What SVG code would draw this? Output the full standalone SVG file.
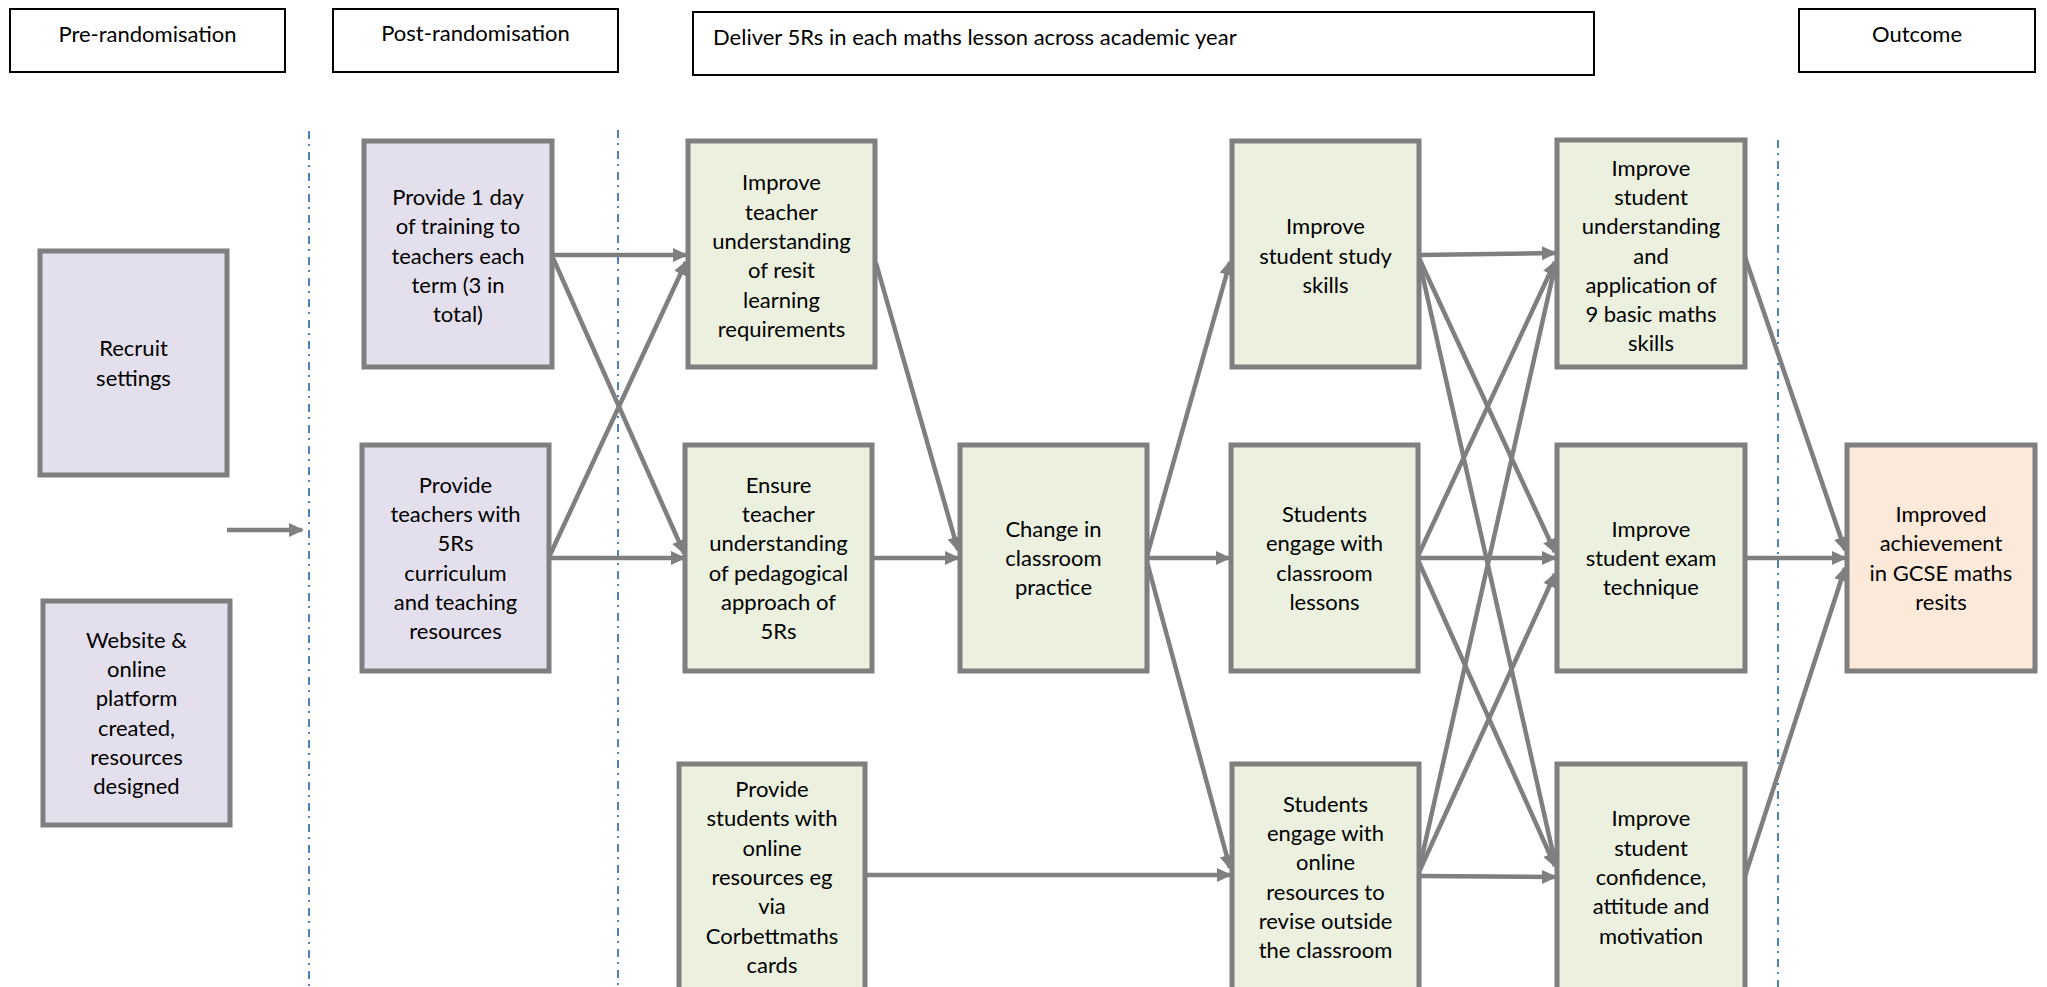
<svg xmlns="http://www.w3.org/2000/svg" width="2047" height="987" viewBox="0 0 2047 987">
<style>
  .hdr { fill: #ffffff; stroke: #000000; stroke-width: 2; }
  .node { stroke: #7f7f7f; stroke-width: 5; }
  .pur { fill: #e4dfec; }
  .grn { fill: #ebf1de; }
  .pch { fill: #fde9d9; }
  text { font-family: Lato, "Open Sans", "Liberation Sans", sans-serif; font-size: 22px; fill: #000000; }
  .c { text-anchor: middle; }
  .conn line { stroke: #7f7f7f; stroke-width: 4.5; fill: none; marker-end: url(#arr); }
  .div line { stroke: #4f81bd; stroke-width: 2; stroke-dasharray: 8 5 2 6; }
</style>
<defs>
  <marker id="arr" markerUnits="userSpaceOnUse" markerWidth="16" markerHeight="15" refX="13" refY="7" orient="auto">
    <path d="M0,0 L15,7 L0,14 z" fill="#7f7f7f"/>
  </marker>
</defs>
<rect width="2047" height="987" fill="#ffffff"/>

<g id="dividers" class="div">
  <line x1="309" y1="131" x2="309" y2="987"/>
  <line x1="618" y1="130" x2="618" y2="987"/>
  <line x1="1778" y1="140" x2="1778" y2="987"/>
</g>

<g id="hdr-pre"><rect class="hdr" x="10" y="9" width="275" height="63"/><text class="c" x="147.5" y="42">Pre-randomisation</text></g>
<g id="hdr-post"><rect class="hdr" x="333" y="9" width="285" height="63"/><text class="c" x="475.5" y="41">Post-randomisation</text></g>
<g id="hdr-deliver"><rect class="hdr" x="693" y="12" width="901" height="63"/><text x="713" y="45">Deliver 5Rs in each maths lesson across academic year</text></g>
<g id="hdr-outcome"><rect class="hdr" x="1799" y="9" width="236" height="63"/><text class="c" x="1917" y="42">Outcome</text></g>

<g id="connectors" class="conn">
  <line x1="227" y1="530" x2="302" y2="530"/>
  <line x1="552" y1="255" x2="686" y2="255"/>
  <line x1="553" y1="258" x2="684" y2="553"/>
  <line x1="550" y1="555" x2="686" y2="262"/>
  <line x1="549" y1="558" x2="684" y2="558"/>
  <line x1="876" y1="263" x2="958" y2="550"/>
  <line x1="872" y1="558" x2="958" y2="558"/>
  <line x1="1147" y1="556" x2="1230" y2="262"/>
  <line x1="1147" y1="558" x2="1229" y2="558"/>
  <line x1="1147" y1="562" x2="1230" y2="868"/>
  <line x1="865" y1="875" x2="1230" y2="875"/>
  <line x1="1419" y1="255" x2="1555" y2="253"/>
  <line x1="1419" y1="258" x2="1555" y2="552"/>
  <line x1="1419" y1="260" x2="1555" y2="862"/>
  <line x1="1418" y1="556" x2="1555" y2="262"/>
  <line x1="1418" y1="558" x2="1555" y2="558"/>
  <line x1="1418" y1="560" x2="1555" y2="866"/>
  <line x1="1419" y1="870" x2="1555" y2="266"/>
  <line x1="1419" y1="872" x2="1555" y2="574"/>
  <line x1="1419" y1="876" x2="1555" y2="877"/>
  <line x1="1745" y1="257" x2="1845" y2="550"/>
  <line x1="1745" y1="558" x2="1845" y2="558"/>
  <line x1="1745" y1="876" x2="1845" y2="568"/>
</g>

<g id="recruit"><rect class="node pur" x="40" y="251" width="187" height="224"/>
  <text class="c"><tspan x="133.5" y="356.4">Recruit</tspan><tspan x="133.5" dy="29.3">settings</tspan></text></g>
<g id="website"><rect class="node pur" x="43" y="601" width="187" height="224"/>
  <text class="c"><tspan x="136.5" y="647.8">Website &amp;</tspan><tspan x="136.5" dy="29.3">online</tspan><tspan x="136.5" dy="29.3">platform</tspan><tspan x="136.5" dy="29.3">created,</tspan><tspan x="136.5" dy="29.3">resources</tspan><tspan x="136.5" dy="29.3">designed</tspan></text></g>

<g id="training"><rect class="node pur" x="364" y="141" width="188" height="226"/>
  <text class="c"><tspan x="458" y="204.9">Provide 1 day</tspan><tspan x="458" dy="29.3">of training to</tspan><tspan x="458" dy="29.3">teachers each</tspan><tspan x="458" dy="29.3">term (3 in</tspan><tspan x="458" dy="29.3">total)</tspan></text></g>
<g id="curriculum"><rect class="node pur" x="362" y="445" width="187" height="226"/>
  <text class="c"><tspan x="455.5" y="492.8">Provide</tspan><tspan x="455.5" dy="29.3">teachers with</tspan><tspan x="455.5" dy="29.3">5Rs</tspan><tspan x="455.5" dy="29.3">curriculum</tspan><tspan x="455.5" dy="29.3">and teaching</tspan><tspan x="455.5" dy="29.3">resources</tspan></text></g>

<g id="teacher-resit"><rect class="node grn" x="688" y="141" width="187" height="226"/>
  <text class="c"><tspan x="781.5" y="190.3">Improve</tspan><tspan x="781.5" dy="29.3">teacher</tspan><tspan x="781.5" dy="29.3">understanding</tspan><tspan x="781.5" dy="29.3">of resit</tspan><tspan x="781.5" dy="29.3">learning</tspan><tspan x="781.5" dy="29.3">requirements</tspan></text></g>
<g id="teacher-pedagogy"><rect class="node grn" x="685" y="445" width="187" height="226"/>
  <text class="c"><tspan x="778.5" y="492.8">Ensure</tspan><tspan x="778.5" dy="29.3">teacher</tspan><tspan x="778.5" dy="29.3">understanding</tspan><tspan x="778.5" dy="29.3">of pedagogical</tspan><tspan x="778.5" dy="29.3">approach of</tspan><tspan x="778.5" dy="29.3">5Rs</tspan></text></g>
<g id="student-resources"><rect class="node grn" x="679" y="764" width="186" height="226"/>
  <text class="c"><tspan x="772" y="797.1">Provide</tspan><tspan x="772" dy="29.3">students with</tspan><tspan x="772" dy="29.3">online</tspan><tspan x="772" dy="29.3">resources eg</tspan><tspan x="772" dy="29.3">via</tspan><tspan x="772" dy="29.3">Corbettmaths</tspan><tspan x="772" dy="29.3">cards</tspan></text></g>

<g id="classroom-practice"><rect class="node grn" x="960" y="445" width="187" height="226"/>
  <text class="c"><tspan x="1053.5" y="536.7">Change in</tspan><tspan x="1053.5" dy="29.3">classroom</tspan><tspan x="1053.5" dy="29.3">practice</tspan></text></g>

<g id="study-skills"><rect class="node grn" x="1232" y="141" width="187" height="226"/>
  <text class="c"><tspan x="1325.5" y="234.2">Improve</tspan><tspan x="1325.5" dy="29.3">student study</tspan><tspan x="1325.5" dy="29.3">skills</tspan></text></g>
<g id="engage-classroom"><rect class="node grn" x="1231" y="445" width="187" height="226"/>
  <text class="c"><tspan x="1324.5" y="522.1">Students</tspan><tspan x="1324.5" dy="29.3">engage with</tspan><tspan x="1324.5" dy="29.3">classroom</tspan><tspan x="1324.5" dy="29.3">lessons</tspan></text></g>
<g id="engage-online"><rect class="node grn" x="1232" y="764" width="187" height="226"/>
  <text class="c"><tspan x="1325.5" y="811.8">Students</tspan><tspan x="1325.5" dy="29.3">engage with</tspan><tspan x="1325.5" dy="29.3">online</tspan><tspan x="1325.5" dy="29.3">resources to</tspan><tspan x="1325.5" dy="29.3">revise outside</tspan><tspan x="1325.5" dy="29.3">the classroom</tspan></text></g>

<g id="basic-skills"><rect class="node grn" x="1557" y="140" width="188" height="227"/>
  <text class="c"><tspan x="1651" y="175.6">Improve</tspan><tspan x="1651" dy="29.3">student</tspan><tspan x="1651" dy="29.3">understanding</tspan><tspan x="1651" dy="29.3">and</tspan><tspan x="1651" dy="29.3">application of</tspan><tspan x="1651" dy="29.3">9 basic maths</tspan><tspan x="1651" dy="29.3">skills</tspan></text></g>
<g id="exam-technique"><rect class="node grn" x="1557" y="445" width="188" height="226"/>
  <text class="c"><tspan x="1651" y="536.7">Improve</tspan><tspan x="1651" dy="29.3">student exam</tspan><tspan x="1651" dy="29.3">technique</tspan></text></g>
<g id="confidence"><rect class="node grn" x="1557" y="764" width="188" height="226"/>
  <text class="c"><tspan x="1651" y="826.4">Improve</tspan><tspan x="1651" dy="29.3">student</tspan><tspan x="1651" dy="29.3">confidence,</tspan><tspan x="1651" dy="29.3">attitude and</tspan><tspan x="1651" dy="29.3">motivation</tspan></text></g>

<g id="achievement"><rect class="node pch" x="1847" y="445" width="188" height="226"/>
  <text class="c"><tspan x="1941" y="522.1">Improved</tspan><tspan x="1941" dy="29.3">achievement</tspan><tspan x="1941" dy="29.3">in GCSE maths</tspan><tspan x="1941" dy="29.3">resits</tspan></text></g>
</svg>
